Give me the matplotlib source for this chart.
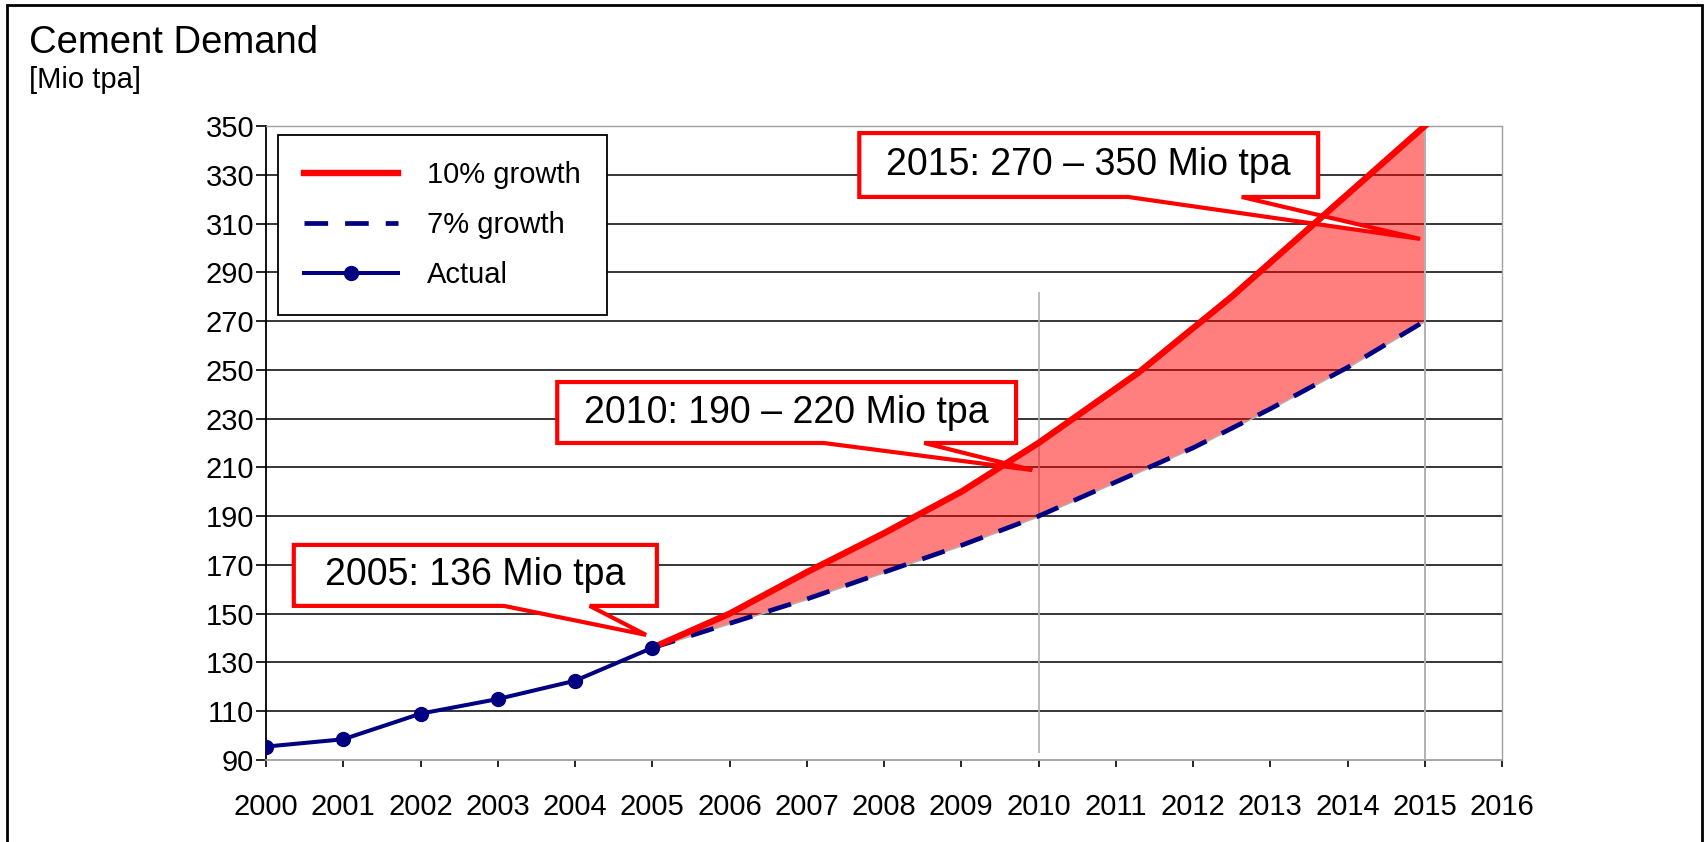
import numpy as np
import matplotlib.pyplot as plt
from matplotlib.patches import Polygon, Rectangle

plt.rcParams['font.family'] = ['Liberation Sans', 'DejaVu Sans']

# --- data (Mio tpa) ---
years_actual = [2000, 2001, 2002, 2003, 2004, 2005]
demand_actual = [95.5, 98.5, 109, 115, 122.5, 136]

years_10 = [2005, 2006, 2007, 2008, 2009, 2010, 2011.3, 2012.5, 2015]
demand_10 = [136, 150, 167, 183, 200, 220, 249, 280, 350]

years_7 = [2005, 2006, 2007, 2008, 2009, 2010, 2011, 2012, 2013, 2014, 2015]
demand_7 = [136, 146, 156, 167, 178, 190, 204, 218, 234, 251, 270]

x_ticks = list(range(2000, 2017))
y_ticks = list(range(90, 351, 20))

callout_texts = ["2005: 136 Mio tpa", "2010: 190 \u2013 220 Mio tpa",
                 "2015: 270 \u2013 350 Mio tpa"]
# box (x0, x1, y_bottom, y_top), wedge base (xa, xb), tip (x, y)
callout_geom = [
    ((2000.36, 2005.06, 153.2, 178.2), (2003.08, 2004.19), (2004.92, 141.3)),
    ((2003.77, 2009.71, 220.0, 245.0), (2007.22, 2008.52), (2009.92, 208.9)),
    ((2007.68, 2013.62, 320.9, 347.1), (2011.16, 2012.63), (2014.94, 303.7)),
]

RED = '#ff0000'
NAVY = '#000080'
GREY = '#b0b0b0'

fig = plt.figure(figsize=(17.08, 8.42), dpi=100)
ax = fig.add_axes([266 / 1708, 1 - 760 / 842, 1236 / 1708, 634 / 842])

# horizontal grid
ax.hlines(y_ticks[1:-1], x_ticks[0], x_ticks[-1], color='black', lw=1.1, zorder=1)

# band between the two scenarios
xs = np.union1d(years_10, years_7)
lo = np.interp(xs, years_7, demand_7)
hi = np.interp(xs, years_10, demand_10)
ax.fill_between(xs, lo, hi, facecolor=(1, 0, 0, 0.5), edgecolor=GREY, lw=1, zorder=3)

# reference year markers
ax.vlines(2010, 93, 282, color=GREY, lw=1.2, zorder=2)
ax.vlines(2015, 90, 350, color=GREY, lw=1.4, zorder=3.5)


def callout(ax, text, box, base, tip):
    x0, x1, y0, y1 = box
    pts = [(base[0], y0), tip, (base[1], y0), (x1, y0), (x1, y1), (x0, y1), (x0, y0)]
    ax.add_patch(Polygon(pts, closed=True, facecolor='white', edgecolor=RED,
                         lw=3, joinstyle='miter', zorder=4))
    ax.text((x0 + x1) / 2, (y0 + y1) / 2, text, ha='center', va='center',
            fontsize=27, zorder=8)


for txt, (box, base, tip) in zip(callout_texts, callout_geom):
    callout(ax, txt, box, base, tip)

l10, = ax.plot(years_10, demand_10, color=RED, lw=4.6, solid_joinstyle='miter',
               zorder=6, label='10% growth')
l7, = ax.plot(years_7, demand_7, color=NAVY, lw=3.4, linestyle=(0, (5.0, 3.6)),
              zorder=5, label='7% growth')
la, = ax.plot(years_actual, demand_actual, color=NAVY, lw=2.9, marker='o',
              markersize=10, zorder=7, label='Actual')

ax.set_xlim(x_ticks[0], x_ticks[-1])
ax.set_ylim(y_ticks[0], y_ticks[-1])
ax.set_xticks(x_ticks)
ax.set_yticks(y_ticks)

for side in ['top', 'right']:
    ax.spines[side].set_color('#a0a0a0')
    ax.spines[side].set_linewidth(1.0)
ax.spines['bottom'].set_color('#a0a0a0')
ax.spines['bottom'].set_linewidth(1.3)
ax.spines['left'].set_color('black')
ax.spines['left'].set_linewidth(1.3)

ax.tick_params(axis='y', direction='out', length=7.5, width=1.2, pad=1, labelsize=21)
ax.tick_params(axis='x', direction='out', length=5, width=1.2, pad=19, labelsize=21)

leg = ax.legend(handles=[l10, l7, la], loc='upper left', bbox_to_anchor=(0.0097, 0.9858),
                borderaxespad=0, fancybox=False, framealpha=1, edgecolor='black',
                fontsize=21, handlelength=3.2, handletextpad=1.0, labelspacing=0.75,
                borderpad=0.9)
leg.get_frame().set_linewidth(1.3)
leg.set_zorder(9)

# headings
fig.text(29 / 1708, 1 - 53 / 842, 'Cement Demand', fontsize=27.5, va='baseline')
fig.text(29 / 1708, 1 - 88 / 842, '[Mio tpa]', fontsize=21, va='baseline')

# outer frame
fig.patches.append(Rectangle((7 / 1708, -0.1), 1695 / 1708, 1.1 - 5 / 842,
                             transform=fig.transFigure, fill=False,
                             edgecolor='black', lw=2))

fig.savefig('out.png', dpi=100)
